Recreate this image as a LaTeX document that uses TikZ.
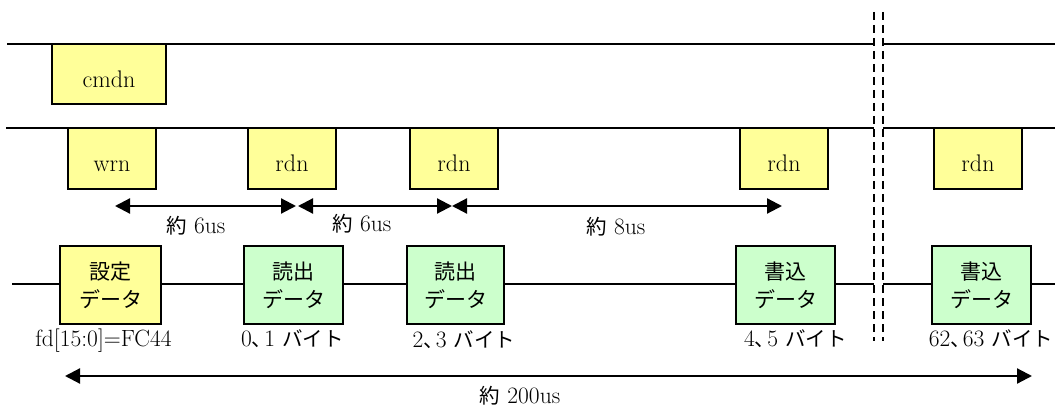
\documentclass[tikz,border=0pt]{standalone}
\usepackage{fontspec}
\newfontfamily\jp{Noto Sans CJK JP}
\newcommand{\J}[1]{{\jp\fontsize{20.5}{26}\selectfont #1}}
\newcommand{\Tn}{\J{、}\kern-8pt}
\usetikzlibrary{arrows.meta}
\definecolor{ylw}{HTML}{FFFF99}
\definecolor{grn}{HTML}{CCFFCC}
\begin{document}
\begin{tikzpicture}[x=1pt,y=-1pt,
  tl/.style={line width=1.3pt},
  brk/.style={line width=1.5pt, dash pattern=on 8pt off 5pt},
  sigbox/.style={draw, line width=1.8pt, fill=ylw, inner sep=0pt, minimum width=88pt, minimum height=61pt},
  databox/.style={draw, line width=1.8pt, inner sep=0pt, minimum width=99pt, minimum height=78pt,
     align=center, font=\jp\fontsize{21}{28}\selectfont},
  sigtxt/.style={inner sep=0pt, anchor=base, font=\fontsize{24}{28}\selectfont},
  lbl/.style={inner sep=0pt, anchor=base, font=\fontsize{23.5}{28}\selectfont},
  dim/.style={line width=2.2pt, {Triangle[length=15pt,width=15pt]}-{Triangle[length=15pt,width=15pt]}}
]
\useasboundingbox (0,0) rectangle (1055,414);

% timelines
\coordinate (t1a) at (7,44);   \coordinate (t1b) at (874,44);
\coordinate (t1c) at (883,44); \coordinate (t1d) at (1055,44);
\coordinate (t2a) at (6,128);  \coordinate (t2b) at (874,128);
\coordinate (t2c) at (883,128);\coordinate (t2d) at (1055,128);
\coordinate (t3a) at (12,284); \coordinate (t3b) at (874,284);
\coordinate (t3c) at (883,284);\coordinate (t3d) at (1055,284);
\draw[tl] (t1a) -- (t1b) (t1c) -- (t1d);
\draw[tl] (t2a) -- (t2b) (t2c) -- (t2d);
\draw[tl] (t3a) -- (t3b) (t3c) -- (t3d);

% break marks
\coordinate (b1a) at (874,12); \coordinate (b1b) at (874,341);
\coordinate (b2a) at (883,12); \coordinate (b2b) at (883,341);
\draw[brk] (b1a) -- (b1b);
\draw[brk] (b2a) -- (b2b);

% signal boxes
\node[sigbox, minimum width=114pt, minimum height=60pt] (cmdn) at (109,74) {};
\node[sigtxt] (cmdnt) at ([yshift=-14pt]cmdn.center) {cmdn};
\node[sigbox] (wrn) at (112,158.5) {};
\node[sigtxt] (wrnt) at ([yshift=-13.5pt]wrn.center) {wrn};
\node[sigbox] (rdn1) at (292,158.5) {};
\node[sigtxt] (rdn1t) at ([yshift=-13.5pt]rdn1.center) {rdn};
\node[sigbox] (rdn2) at (454,158.5) {};
\node[sigtxt] (rdn2t) at ([yshift=-13.5pt]rdn2.center) {rdn};
\node[sigbox] (rdn3) at (784,158.5) {};
\node[sigtxt] (rdn3t) at ([yshift=-13.5pt]rdn3.center) {rdn};
\node[sigbox] (rdn4) at (978,158.5) {};
\node[sigtxt] (rdn4t) at ([yshift=-13.5pt]rdn4.center) {rdn};

% interval arrows
\coordinate (a1l) at (115,206); \coordinate (a1r) at (296,206);
\coordinate (a2l) at (298,206); \coordinate (a2r) at (452,206);
\coordinate (a3l) at (452,206); \coordinate (a3r) at (782,206);
\draw[dim] (a1l) -- (a1r);
\draw[dim] (a2l) -- (a2r);
\draw[dim] (a3l) -- (a3r);
\node[lbl] (l1) at (196,234) {\J{約} 6us};
\node[lbl] (l2) at (362,232) {\J{約} 6us};
\node[lbl] (l3) at (616,235) {\J{約} 8us};

% data boxes
\node[databox, fill=ylw, minimum width=101pt] (d0) at (110.5,285) {設定\\データ};
\node[databox, fill=grn] (d1) at (293.5,285) {読出\\データ};
\node[databox, fill=grn, minimum width=97pt] (d2) at (455.5,285) {読出\\データ};
\node[databox, fill=grn] (d3) at (785.5,285) {書込\\データ};
\node[databox, fill=grn] (d4) at (981.5,285) {書込\\データ};

% labels under data
\node[lbl] (f0) at (103.5,346) {fd[15:0]=FC44};
\node[lbl] (f1) at (292.5,346) {0\Tn 1 \J{バイト}};
\node[lbl] (f2) at (464,347) {2\Tn 3 \J{バイト}};
\node[lbl] (f3) at (795.5,346) {4\Tn 5 \J{バイト}};
\node[lbl] (f4) at (991,346) {62\Tn 63 \J{バイト}};

% total arrow
\coordinate (tl) at (65,376); \coordinate (tr) at (1032,376);
\draw[dim] (tl) -- (tr);
\node[lbl] (tot) at (520,403) {\J{約} 200us};
\end{tikzpicture}
\end{document}
